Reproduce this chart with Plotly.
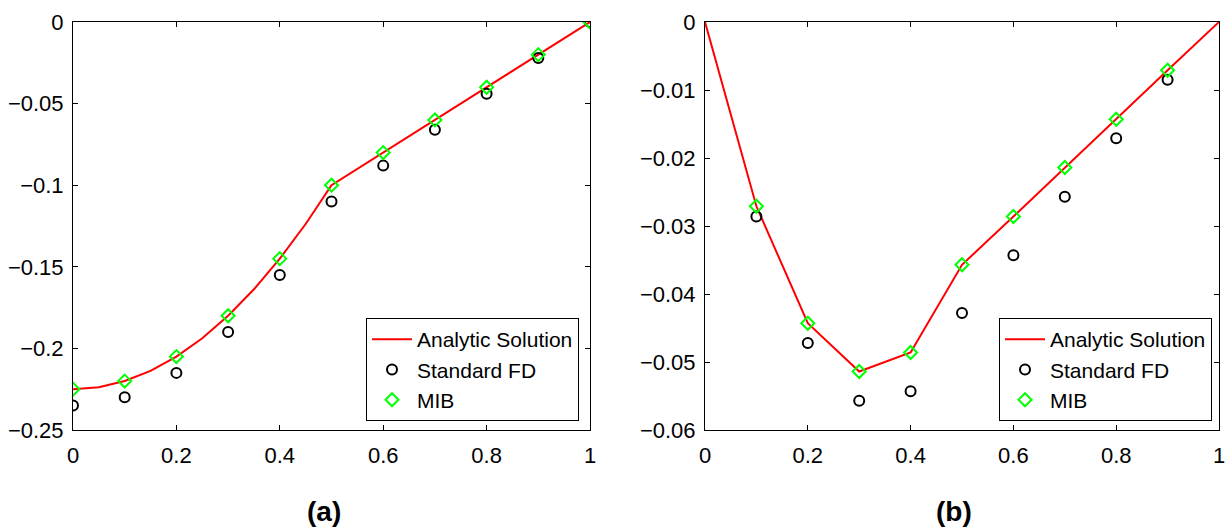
import plotly.graph_objects as go

# ---- data (a) ----
xa_line = [0, 0.05, 0.1, 0.15, 0.2, 0.25, 0.3, 0.35, 0.4, 0.45, 0.5, 0.6, 0.7, 0.8, 0.9, 1.0]
ya_line = [-0.225, -0.2238, -0.22, -0.2138, -0.205, -0.1938, -0.18, -0.1638, -0.145, -0.1238,
           -0.1, -0.08, -0.06, -0.04, -0.02, 0.0]
xa_pts = [0, 0.1, 0.2, 0.3, 0.4, 0.5, 0.6, 0.7, 0.8, 0.9, 1.0]
ya_fd = [-0.235, -0.23, -0.215, -0.19, -0.155, -0.11, -0.088, -0.066, -0.044, -0.022, 0.0]
ya_mib = [-0.225, -0.22, -0.205, -0.18, -0.145, -0.1, -0.08, -0.06, -0.04, -0.02, 0.0]

# ---- data (b) ----
xb_line = [0, 0.1, 0.2, 0.3, 0.4, 0.5, 0.6, 0.7, 0.8, 0.9, 1.0]
yb_line = [0.0, -0.0271, -0.0443, -0.0514, -0.0486, -0.0357, -0.0286, -0.0214, -0.0143, -0.0071, 0.0]
xb_pts = [0.1, 0.2, 0.3, 0.4, 0.5, 0.6, 0.7, 0.8, 0.9]
yb_fd = [-0.0286, -0.0472, -0.0557, -0.0543, -0.0428, -0.0343, -0.0257, -0.0171, -0.0085]
yb_mib = [-0.0271, -0.0443, -0.0514, -0.0486, -0.0357, -0.0286, -0.0214, -0.0143, -0.0071]

names = ["Analytic Solution", "Standard FD", "MIB"]
FONT = "Liberation Sans, Arial, sans-serif"
FS = 22
LFS = 21

fig = go.Figure()

def add_set(xl, yl, xp, yfd, ymib, xa, ya, leg):
    fig.add_trace(go.Scatter(x=xl, y=yl, mode="lines", name=names[0],
                             line=dict(color="#ff0000", width=2),
                             xaxis=xa, yaxis=ya, legend=leg))
    fig.add_trace(go.Scatter(x=xp, y=yfd, mode="markers", name=names[1],
                             marker=dict(symbol="circle-open", size=10, color="black",
                                         line=dict(width=2, color="black")),
                             xaxis=xa, yaxis=ya, legend=leg))
    fig.add_trace(go.Scatter(x=xp, y=ymib, mode="markers", name=names[2],
                             marker=dict(symbol="diamond-open", size=10, color="#00ff00",
                                         line=dict(width=2, color="#00ff00")),
                             xaxis=xa, yaxis=ya, legend=leg))

add_set(xa_line, ya_line, xa_pts, ya_fd, ya_mib, "x", "y", "legend")
add_set(xb_line, yb_line, xb_pts, yb_fd, yb_mib, "x2", "y2", "legend2")

ax_common = dict(showgrid=False, zeroline=False, showline=True, linecolor="black",
                 linewidth=1, mirror="ticks", ticks="inside", ticklen=5,
                 tickcolor="black", automargin=False,
                 tickfont=dict(family=FONT, size=FS, color="black"))

leg_common = dict(xanchor="right", yanchor="bottom",
                  bgcolor="white", bordercolor="black", borderwidth=1,
                  font=dict(family=FONT, size=LFS, color="black"),
                  tracegroupgap=0, itemwidth=40)

L, R = 73, 7
W = 1226 - L - R
fig.update_layout(
    width=1226, height=529,
    margin=dict(l=L, r=R, t=22, b=99),
    paper_bgcolor="white", plot_bgcolor="white",
    font=dict(family=FONT, size=FS, color="black"),
    xaxis=dict(domain=[0, (590 - L) / W], range=[0, 1], dtick=0.2, anchor="y",
               ticklabelstandoff=6, **ax_common),
    yaxis=dict(range=[-0.25, 0], dtick=0.05, anchor="x", ticklabelstandoff=4, **ax_common),
    xaxis2=dict(domain=[(705 - L) / W, 1], range=[0, 1], dtick=0.2, anchor="y2",
                ticklabelstandoff=6, **ax_common),
    yaxis2=dict(range=[-0.06, 0], dtick=0.01, anchor="x2", ticklabelstandoff=4, **ax_common),
    legend=dict(x=(579 - L) / W, y=0.022, **leg_common),
    legend2=dict(x=(1212 - L) / W, y=0.022, **leg_common),
    showlegend=True,
)

fig.add_annotation(text="<b>(a)</b>", x=(324 - L) / W, y=-0.2, xref="paper", yref="paper",
                   xanchor="center", yanchor="middle", showarrow=False,
                   font=dict(family=FONT, size=28, color="black"))
fig.add_annotation(text="<b>(b)</b>", x=(954 - L) / W, y=-0.2, xref="paper", yref="paper",
                   xanchor="center", yanchor="middle", showarrow=False,
                   font=dict(family=FONT, size=28, color="black"))

fig.write_html("out.html", config={"displayModeBar": False},
               post_script="document.body.style.margin='0';document.body.style.overflow='hidden';")
